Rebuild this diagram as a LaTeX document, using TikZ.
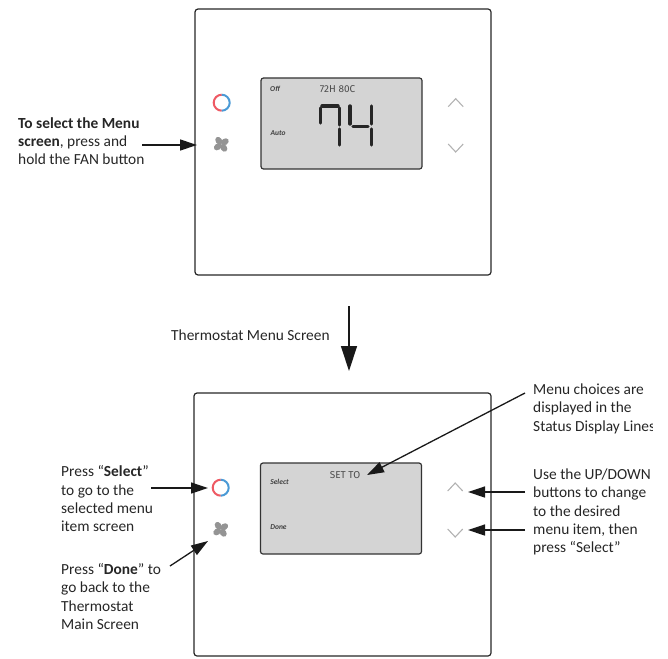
\documentclass[tikz,border=0pt]{standalone}
\usepackage{fontspec}
\setmainfont{Carlito}
\newfontfamily\lcdfont{Fira Sans}
\usetikzlibrary{arrows.meta}

\definecolor{ringblue}{HTML}{4A9AD6}
\definecolor{ringred}{HTML}{EE5A64}

\tikzset{
    notetext/.style={align=left, anchor=north west, inner sep=0pt, font=\fontsize{15.4}{18.35}\selectfont, text=black!85},
    housing/.style={draw=black!85, line width=1.2pt, rounded corners=3pt},
    lcd/.style={draw=black!80, fill=black!17, line width=1.2pt, rounded corners=2.5pt},
    softkey/.style={inner sep=0pt, font=\fontsize{7.5}{9}\selectfont\bfseries\itshape, text=black!75},
    lcdline/.style={inner sep=0pt, font=\lcdfont\fontsize{10}{11}\selectfont, text=black!70},
    chevron/.style={draw=black!30, line width=1.1pt},
    segment/.style={draw=black!85, line width=3.4pt, line cap=round},
    callout/.style={-{Triangle[length=17pt,width=11pt]}, line width=1.3pt, draw=black!90},
    halfred/.style={draw=ringred, line width=2pt},
    halfblue/.style={draw=ringblue, line width=2pt},
}

\begin{document}
\begin{tikzpicture}[x=1pt,y=-1pt]
    \useasboundingbox (0,0) rectangle (668,658);

    % Top housing
    \node at (343,142) [housing, minimum width=296pt, minimum height=266pt] (topcase) {};
    \node at (341.5,123.5) [lcd, minimum width=161pt, minimum height=91pt] (toplcd) {};
    \node at (275,88.5) [softkey] (topoff) {Off};
    \node at (278,133) [softkey] (topauto) {Auto};
    \node at (337.5,89.5) [lcdline] (topstatus) {72H 80C};

    % Digits
    \draw[segment] (322,106) -- (338,106);
    \draw[segment] (320.5,108) -- (320.5,123);
    \draw[segment] (339.5,108) -- (339.5,125);
    \draw[segment] (339.5,129) -- (339.5,145);
    \draw[segment] (350,106) -- (350,124);
    \draw[segment] (353,126.5) -- (368,126.5);
    \draw[segment] (371.5,106) -- (371.5,124);
    \draw[segment] (371.5,129) -- (371.5,145);

    % Bottom housing
    \node at (342.5,524.5) [housing, minimum width=297pt, minimum height=263pt] (menucase) {};
    \node at (341,508.5) [lcd, minimum width=161pt, minimum height=91pt] (menulcd) {};
    \node at (279.5,482) [softkey] (menuselect) {Select};
    \node at (278.5,527) [softkey] (menudone) {Done};
    \node at (345,475) [lcdline] (menustatus) {SET TO};

    % Rings
    \foreach \name/\ringx/\ringy in {topring/221.7/102.7, menuring/220.7/487.7} {
        \node at (\ringx,\ringy) [circle, minimum size=19pt, inner sep=0pt] (\name) {};
        \draw[halfred] (\ringx,\ringy-8) arc[start angle=90, end angle=270, radius=8pt];
        \draw[halfblue] (\ringx,\ringy+8) arc[start angle=-90, end angle=90, radius=8pt];
    }

    % Fans
    \foreach \name/\fanx/\fany in {topfan/221.3/144.3, menufan/220.7/529.3} {
        \node at (\fanx,\fany) [circle, minimum size=18pt, inner sep=0pt] (\name) {};
        \foreach \blade in {35,125,215,305} {
            \fill[black!42] (\fanx,\fany) ++(\blade:4.3pt) ellipse[x radius=4.2pt, y radius=3.2pt, rotate=\blade];
        }
    }

    % Chevrons
    \foreach \name/\chevx/\chevy/\chevdir in {topup/455.7/98.7/1, topdown/455.7/152/-1, menuup/455.2/483/1, menudown/455.2/537/-1} {
        \coordinate (\name) at (\chevx,\chevy);
        \draw[chevron] (\chevx-7.5,\chevy+8*\chevdir) -- (\name) -- (\chevx+7.5,\chevy+8*\chevdir);
    }

    % Notes
    \node at (18,117) [notetext] (selectnote) {\textbf{To select the Menu}\\\textbf{screen}, press and\\hold the FAN button};
    \node at (171,330) [notetext] (screennote) {Thermostat Menu Screen};
    \begin{scope}
        \clip (500,370) rectangle (652,440);
        \node at (533,383.5) [notetext] (choicesnote) {Menu choices are\\displayed in the\\Status Display Lines};
    \end{scope}
    \node at (533,468.5) [notetext] (updownnote) {Use the UP/DOWN\\buttons to change\\to the desired\\menu item, then\\press “Select”};
    \node at (61,465.5) [notetext] (pressselect) {Press “\textbf{Select}”\\to go to the\\selected menu\\item screen};
    \node at (61,563) [notetext] (pressdone) {Press “\textbf{Done}” to\\go back to the\\Thermostat\\Main Screen};

    % Arrow ends
    \coordinate (fanstart) at (142,145);
    \coordinate (fanend) at (197,145);
    \coordinate (flowstart) at (349,306);
    \coordinate (flowend) at (349,371);
    \coordinate (choicesstart) at (525,393);
    \coordinate (choicesend) at (367,475);
    \coordinate (selectstart) at (151,488);
    \coordinate (selectend) at (208,488);
    \coordinate (donestart) at (170,566);
    \coordinate (doneend) at (208,541);
    \coordinate (upstart) at (525,492);
    \coordinate (upend) at (468,492);
    \coordinate (downstart) at (525,530);
    \coordinate (downend) at (468,530);

    % Arrows
    \draw[callout] (fanstart) -- (fanend);
    \draw[callout, -{Triangle[length=25pt,width=16pt]}] (flowstart) -- (flowend);
    \draw[callout] (choicesstart) -- (choicesend);
    \draw[callout] (selectstart) -- (selectend);
    \draw[callout] (donestart) -- (doneend);
    \draw[callout] (upstart) -- (upend);
    \draw[callout] (downstart) -- (downend);
\end{tikzpicture}
\end{document}
